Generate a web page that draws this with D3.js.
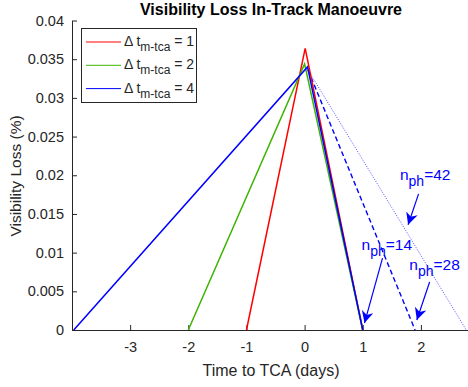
<!DOCTYPE html>
<html>
<head>
<meta charset="utf-8">
<script src="https://cdn.jsdelivr.net/npm/d3@7"></script>
<style>
  body { margin: 0; background: #fff; }
  svg { font-family: "Liberation Sans", Arial, sans-serif; }
</style>
</head>
<body>
<div id="chart"></div>
<script>
// data (time to TCA in days, visibility loss in %)
const redT = [-1.0, 0.01, 1.0];
const redV = [0, 0.0364, 0];
const greenT = [-2.0, 0.0, 1.0];
const greenV = [0, 0.0344, 0];
const blueT = [-3.97, 0.05, 1.0];
const blueV = [0, 0.0340, 0];
const dashT = [0.06, 1.9];
const dashV = [0.0336, 0];
const dotT = [0.06, 2.78];
const dotV = [0.0336, 0];

const xTicks = [-3, -2, -1, 0, 1, 2];
const yTicks = [0, 0.005, 0.01, 0.015, 0.02, 0.025, 0.03, 0.035, 0.04];
const legendLabels = ["1", "2", "4"];

// annotations: text anchor and arrow start/end in data units
const notes = [
  { n: "42", tx: 1.64, ty: 0.0194, ax: [1.96, 0.0176], bx: [1.78, 0.0136] },
  { n: "14", tx: 0.98, ty: 0.0103, ax: [1.34, 0.0093], bx: [1.03, 0.0009] },
  { n: "28", tx: 1.80, ty: 0.0077, ax: [2.15, 0.0062], bx: [1.93, 0.0013] }
];

const W = 468, H = 387;
const margin = { top: 20.5, right: 0, bottom: 57, left: 72 };

const svg = d3.select("#chart").append("svg")
  .attr("width", W)
  .attr("height", H);

const x = d3.scaleLinear().domain([-4, 2.81]).range([margin.left, W - margin.right]);
const y = d3.scaleLinear().domain([0, 0.04]).range([H - margin.bottom, margin.top]);

const fmt = d => d === 0 ? "0" : String(+d.toFixed(3));

// x axis, ticks pointing inwards like matlab
const xAxis = svg.append("g")
  .attr("transform", "translate(0," + y(0) + ")")
  .call(d3.axisBottom(x).tickValues(xTicks).tickSizeInner(-5).tickSizeOuter(0)
    .tickPadding(12).tickFormat(d => String(d)));
xAxis.select(".domain").attr("stroke", "#262626");
xAxis.selectAll(".tick line").attr("stroke", "#262626");
xAxis.selectAll("text").style("font-size", "14.5px").attr("fill", "#262626");

const yAxis = svg.append("g")
  .attr("transform", "translate(" + x(-4) + ",0)")
  .call(d3.axisLeft(y).tickValues(yTicks).tickSizeInner(-5).tickSizeOuter(0)
    .tickPadding(8).tickFormat(fmt));
yAxis.select(".domain").attr("stroke", "#262626");
yAxis.selectAll(".tick line").attr("stroke", "#262626");
yAxis.selectAll("text").style("font-size", "14.5px").attr("fill", "#262626");

// lines
const line = d3.line().x(d => x(d[0])).y(d => y(d[1]));
const series = [
  { t: dotT, v: dotV, color: "#4d4dff", w: 1, dash: "1,1.5" },
  { t: dashT, v: dashV, color: "#0000ff", w: 1.4, dash: "5,3" },
  { t: redT, v: redV, color: "#ff0000", w: 1.5, dash: null },
  { t: greenT, v: greenV, color: "#3cb400", w: 1.5, dash: null },
  { t: blueT, v: blueV, color: "#0000ff", w: 1.5, dash: null }
];
series.forEach(s => {
  svg.append("path")
    .datum(s.t.map((t, i) => [t, s.v[i]]))
    .attr("d", line)
    .attr("fill", "none")
    .attr("stroke", s.color)
    .attr("stroke-width", s.w)
    .attr("stroke-dasharray", s.dash);
});

// annotations
svg.append("defs").append("marker")
  .attr("id", "arr")
  .attr("viewBox", "0 0 10 10")
  .attr("refX", 10).attr("refY", 5)
  .attr("markerWidth", 12).attr("markerHeight", 12)
  .attr("markerUnits", "userSpaceOnUse")
  .attr("orient", "auto")
  .append("path")
  .attr("d", "M0,0 L10,5 L0,10 L3,5 z")
  .attr("fill", "#0000ff");

notes.forEach(n => {
  svg.append("line")
    .attr("x1", x(n.ax[0])).attr("y1", y(n.ax[1]))
    .attr("x2", x(n.bx[0])).attr("y2", y(n.bx[1]))
    .attr("stroke", "#0000ff")
    .attr("stroke-width", 1.2)
    .attr("marker-end", "url(#arr)");
  const t = svg.append("text")
    .attr("x", x(n.tx)).attr("y", y(n.ty))
    .attr("fill", "#0000ff")
    .style("font-size", "15.5px");
  t.append("tspan").text("n");
  t.append("tspan").attr("dy", 6).style("font-size", "14px").text("ph");
  t.append("tspan").attr("dy", -6).text("=" + n.n);
});

// legend
const lg = svg.append("g");
lg.append("rect")
  .attr("x", 81.5).attr("y", 28.5)
  .attr("width", 115).attr("height", 74)
  .attr("fill", "#fff")
  .attr("stroke", "#262626")
  .attr("stroke-width", 1);
const legendColors = ["#ff0000", "#3cb400", "#0000ff"];
legendLabels.forEach((lab, i) => {
  const yy = 42 + i * 23.3;
  lg.append("line")
    .attr("x1", 86).attr("x2", 121)
    .attr("y1", yy).attr("y2", yy)
    .attr("stroke", legendColors[i]);
  const t = lg.append("text")
    .attr("x", 124).attr("y", yy + 4)
    .attr("fill", "#262626")
    .style("font-size", "14px");
  t.append("tspan").text("\u0394 t");
  t.append("tspan").attr("dy", 5).style("font-size", "12px").text("m-tca");
  t.append("tspan").attr("dy", -5).text(" = " + lab);
});

// title and axis labels
svg.append("text")
  .attr("x", 271).attr("y", 15)
  .attr("text-anchor", "middle")
  .style("font-size", "16px")
  .style("font-weight", "bold")
  .attr("fill", "#000")
  .text("Visibility Loss In-Track Manoeuvre");

svg.append("text")
  .attr("x", 271).attr("y", 376)
  .attr("text-anchor", "middle")
  .style("font-size", "16px")
  .attr("fill", "#262626")
  .text("Time to TCA (days)");

svg.append("text")
  .attr("transform", "translate(21,176) rotate(-90)")
  .attr("text-anchor", "middle")
  .style("font-size", "15.5px")
  .attr("fill", "#262626")
  .text("Visibility Loss (%)");
</script>
</body>
</html>
